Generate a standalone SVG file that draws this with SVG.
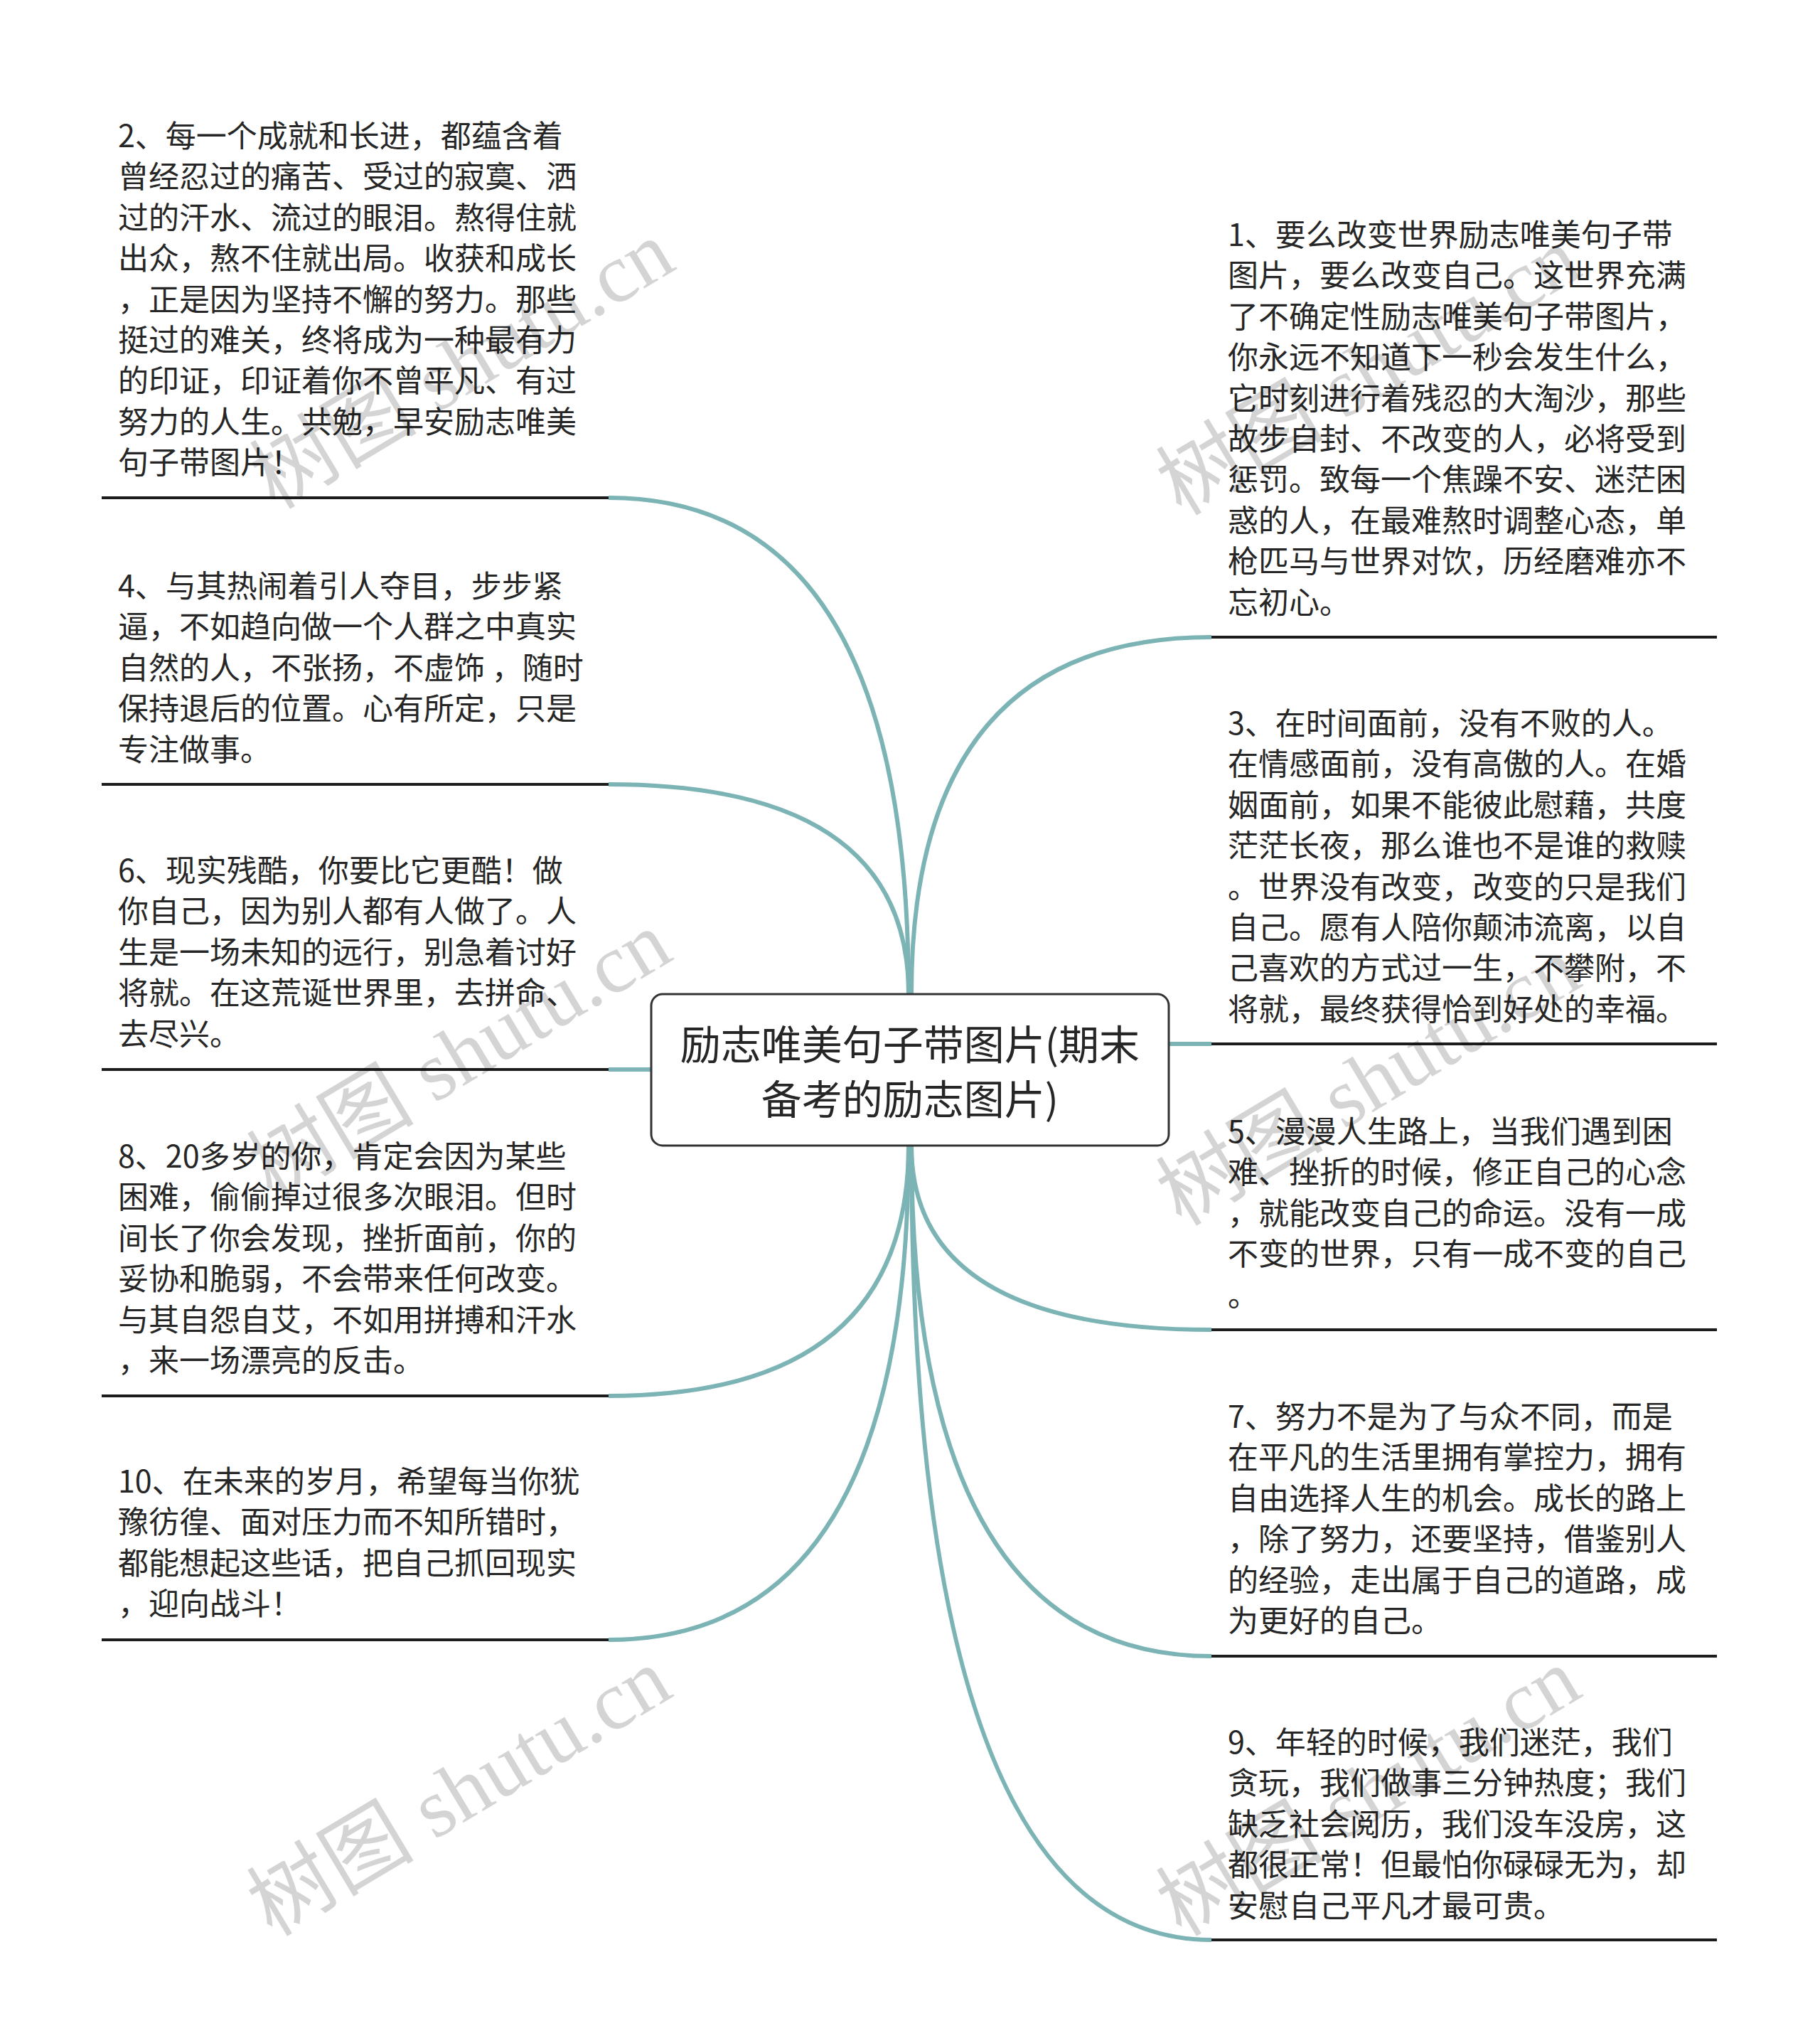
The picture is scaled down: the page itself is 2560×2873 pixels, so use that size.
<svg xmlns="http://www.w3.org/2000/svg" width="2560" height="2873" viewBox="0 0 2560 2873">
<style>
.t{font-family:"Noto Sans CJK SC","Liberation Sans",sans-serif;font-size:43px;fill:#262626}
.title{font-family:"Noto Sans CJK SC","Liberation Sans",sans-serif;font-size:57px;fill:#262626;text-anchor:middle}
.ul{stroke:#1c1c1c;stroke-width:4;fill:none}
.c{stroke:#7cb4b5;stroke-width:6;fill:none}
.wm{font-family:"Liberation Serif","Noto Sans CJK SC",serif;font-size:118px;fill:#000;fill-opacity:0.17;text-anchor:middle}
</style>
<rect width="2560" height="2873" fill="#fff"/>
<g id="connectors">
<path class="c" d="M1278 1398 Q1278 700 856 700"/>
<path class="c" d="M1278 1398 Q1278 1103 856 1103"/>
<path class="c" d="M916 1504 L856 1504"/>
<path class="c" d="M1278 1611 Q1278 1963 856 1963"/>
<path class="c" d="M1278 1611 Q1278 2306 856 2306"/>
<path class="c" d="M1282 1398 Q1282 896 1704 896"/>
<path class="c" d="M1644 1468 L1704 1468"/>
<path class="c" d="M1282 1611 Q1282 1870 1704 1870"/>
<path class="c" d="M1282 1611 Q1282 2329 1704 2329"/>
<path class="c" d="M1282 1611 Q1282 2728 1704 2728"/>
</g>
<g id="center">
<rect x="916" y="1398" width="728" height="213" rx="16" fill="#fff" stroke="#333" stroke-width="3"/>
<text class="title" x="1280" y="1490">励志唯美句子带图片(期末</text>
<text class="title" x="1280" y="1567">备考的励志图片)</text>
</g>
<g id="node2">
<text class="t" x="166"><tspan x="166" y="207">2、每一个成就和长进，都蕴含着</tspan><tspan x="166" y="264.4">曾经忍过的痛苦、受过的寂寞、洒</tspan><tspan x="166" y="321.8">过的汗水、流过的眼泪。熬得住就</tspan><tspan x="166" y="379.2">出众，熬不住就出局。收获和成长</tspan><tspan x="166" y="436.6">，正是因为坚持不懈的努力。那些</tspan><tspan x="166" y="494">挺过的难关，终将成为一种最有力</tspan><tspan x="166" y="551.4">的印证，印证着你不曾平凡、有过</tspan><tspan x="166" y="608.8">努力的人生。共勉，早安励志唯美</tspan><tspan x="166" y="666.2">句子带图片！</tspan></text>
<line class="ul" x1="143" y1="700" x2="856" y2="700"/>
</g>
<g id="node4">
<text class="t"><tspan x="166" y="840">4、与其热闹着引人夺目，步步紧</tspan><tspan x="166" y="897.4">逼，不如趋向做一个人群之中真实</tspan><tspan x="166" y="954.8">自然的人，不张扬，不虚饰 ，随时</tspan><tspan x="166" y="1012.2">保持退后的位置。心有所定，只是</tspan><tspan x="166" y="1069.6">专注做事。</tspan></text>
<line class="ul" x1="143" y1="1103" x2="856" y2="1103"/>
</g>
<g id="node6">
<text class="t"><tspan x="166" y="1240">6、现实残酷，你要比它更酷！做</tspan><tspan x="166" y="1297.4">你自己，因为别人都有人做了。人</tspan><tspan x="166" y="1354.8">生是一场未知的远行，别急着讨好</tspan><tspan x="166" y="1412.2">将就。在这荒诞世界里，去拼命、</tspan><tspan x="166" y="1469.6">去尽兴。</tspan></text>
<line class="ul" x1="143" y1="1504" x2="856" y2="1504"/>
</g>
<g id="node8">
<text class="t"><tspan x="166" y="1642">8、20多岁的你，肯定会因为某些</tspan><tspan x="166" y="1699.4">困难，偷偷掉过很多次眼泪。但时</tspan><tspan x="166" y="1756.8">间长了你会发现，挫折面前，你的</tspan><tspan x="166" y="1814.2">妥协和脆弱，不会带来任何改变。</tspan><tspan x="166" y="1871.6">与其自怨自艾，不如用拼搏和汗水</tspan><tspan x="166" y="1929">，来一场漂亮的反击。</tspan></text>
<line class="ul" x1="143" y1="1963" x2="856" y2="1963"/>
</g>
<g id="node10">
<text class="t"><tspan x="166" y="2099">10、在未来的岁月，希望每当你犹</tspan><tspan x="166" y="2156.4">豫彷徨、面对压力而不知所错时，</tspan><tspan x="166" y="2213.8">都能想起这些话，把自己抓回现实</tspan><tspan x="166" y="2271.2">，迎向战斗！</tspan></text>
<line class="ul" x1="143" y1="2306" x2="856" y2="2306"/>
</g>
<g id="node1">
<text class="t"><tspan x="1727" y="346">1、要么改变世界励志唯美句子带</tspan><tspan x="1727" y="403.4">图片，要么改变自己。这世界充满</tspan><tspan x="1727" y="460.8">了不确定性励志唯美句子带图片，</tspan><tspan x="1727" y="518.2">你永远不知道下一秒会发生什么，</tspan><tspan x="1727" y="575.6">它时刻进行着残忍的大淘沙，那些</tspan><tspan x="1727" y="633">故步自封、不改变的人，必将受到</tspan><tspan x="1727" y="690.4">惩罚。致每一个焦躁不安、迷茫困</tspan><tspan x="1727" y="747.8">惑的人，在最难熬时调整心态，单</tspan><tspan x="1727" y="805.2">枪匹马与世界对饮，历经磨难亦不</tspan><tspan x="1727" y="862.6">忘初心。</tspan></text>
<line class="ul" x1="1704" y1="896" x2="2415" y2="896"/>
</g>
<g id="node3">
<text class="t"><tspan x="1727" y="1033">3、在时间面前，没有不败的人。</tspan><tspan x="1727" y="1090.4">在情感面前，没有高傲的人。在婚</tspan><tspan x="1727" y="1147.8">姻面前，如果不能彼此慰藉，共度</tspan><tspan x="1727" y="1205.2">茫茫长夜，那么谁也不是谁的救赎</tspan><tspan x="1727" y="1262.6">。世界没有改变，改变的只是我们</tspan><tspan x="1727" y="1320">自己。愿有人陪你颠沛流离，以自</tspan><tspan x="1727" y="1377.4">己喜欢的方式过一生，不攀附，不</tspan><tspan x="1727" y="1434.8">将就，最终获得恰到好处的幸福。</tspan></text>
<line class="ul" x1="1704" y1="1468" x2="2415" y2="1468"/>
</g>
<g id="node5">
<text class="t"><tspan x="1727" y="1607">5、漫漫人生路上，当我们遇到困</tspan><tspan x="1727" y="1664.4">难、挫折的时候，修正自己的心念</tspan><tspan x="1727" y="1721.8">，就能改变自己的命运。没有一成</tspan><tspan x="1727" y="1779.2">不变的世界，只有一成不变的自己</tspan><tspan x="1727" y="1836.6">。</tspan></text>
<line class="ul" x1="1704" y1="1870" x2="2415" y2="1870"/>
</g>
<g id="node7">
<text class="t"><tspan x="1727" y="2008">7、努力不是为了与众不同，而是</tspan><tspan x="1727" y="2065.4">在平凡的生活里拥有掌控力，拥有</tspan><tspan x="1727" y="2122.8">自由选择人生的机会。成长的路上</tspan><tspan x="1727" y="2180.2">，除了努力，还要坚持，借鉴别人</tspan><tspan x="1727" y="2237.6">的经验，走出属于自己的道路，成</tspan><tspan x="1727" y="2295">为更好的自己。</tspan></text>
<line class="ul" x1="1704" y1="2329" x2="2415" y2="2329"/>
</g>
<g id="node9">
<text class="t"><tspan x="1727" y="2466">9、年轻的时候，我们迷茫，我们</tspan><tspan x="1727" y="2523.4">贪玩，我们做事三分钟热度；我们</tspan><tspan x="1727" y="2580.8">缺乏社会阅历，我们没车没房，这</tspan><tspan x="1727" y="2638.2">都很正常！但最怕你碌碌无为，却</tspan><tspan x="1727" y="2695.6">安慰自己平凡才最可贵。</tspan></text>
<line class="ul" x1="1704" y1="2728" x2="2415" y2="2728"/>
</g>
<g id="watermarks">
<text class="wm" transform="translate(650 513) rotate(-31)" y="40">树图 shutu.cn</text>
<text class="wm" transform="translate(1925 522) rotate(-31)" y="40">树图 shutu.cn</text>
<text class="wm" transform="translate(646 1484) rotate(-31)" y="40">树图 shutu.cn</text>
<text class="wm" transform="translate(1925 1521) rotate(-31)" y="40">树图 shutu.cn</text>
<text class="wm" transform="translate(646 2520) rotate(-31)" y="40">树图 shutu.cn</text>
<text class="wm" transform="translate(1925 2520) rotate(-31)" y="40">树图 shutu.cn</text>
</g>
</svg>
